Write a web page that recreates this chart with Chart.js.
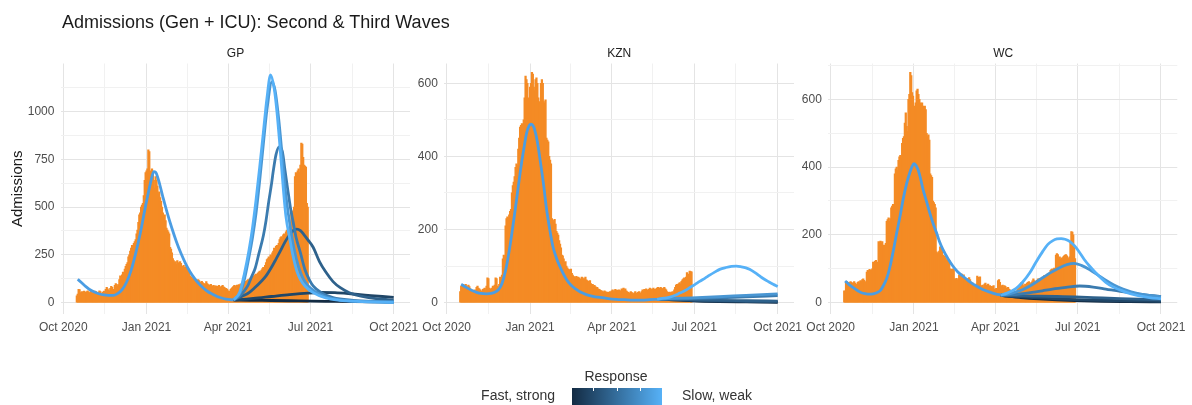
<!DOCTYPE html>
<html>
<head>
<meta charset="utf-8">
<title>Admissions (Gen + ICU): Second &amp; Third Waves</title>
<script src="https://cdn.jsdelivr.net/npm/chart.js@4.4.1/dist/chart.umd.min.js"></script>
<style>
  html, body { margin: 0; padding: 0; background: #ffffff; }
  body { width: 1192px; height: 405px; overflow: hidden; position: relative;
         font-family: 'Liberation Sans', Arial, sans-serif; }
  canvas { position: absolute; top: 0; }
  .txt { position: absolute; white-space: nowrap; line-height: normal; }
  .strip { font-size: 12px; color: #222; text-align: center; top: 45.5px; }
</style>
</head>
<body>
<canvas id="gp" width="440" height="405" style="left:0px"></canvas>
<canvas id="kzn" width="410" height="405" style="left:412px"></canvas>
<canvas id="wc" width="396" height="405" style="left:796px"></canvas>

<div class="txt" style="left:62px;top:12px;font-size:18px;color:#1a1a1a">Admissions (Gen + ICU): Second &amp; Third Waves</div>
<div class="txt strip" style="left:61px;width:349px">GP</div>
<div class="txt strip" style="left:444.4px;width:349.6px">KZN</div>
<div class="txt strip" style="left:828.4px;width:349.6px">WC</div>

<div class="txt" style="left:560px;width:112px;text-align:center;top:368px;font-size:14px;color:#333">Response</div>
<div class="txt" style="left:455px;width:100px;text-align:right;top:386.5px;font-size:14px;color:#333">Fast, strong</div>
<div class="txt" style="left:682px;top:386.5px;font-size:14px;color:#333">Slow, weak</div>
<div style="position:absolute;left:572px;top:388px;width:90px;height:20px;background:linear-gradient(to right,#132B43,#56B1F7)"></div>
<div style="position:absolute;left:593px;top:388px;width:1px;height:3px;background:#fff"></div>
<div style="position:absolute;left:617px;top:388px;width:1px;height:3px;background:#fff"></div>
<div style="position:absolute;left:640px;top:388px;width:1px;height:3px;background:#fff"></div>

<script>
// Days are counted from 1 Oct 2020; daily admissions start on 16 Oct 2020.
const START_DAY = 15;

// Daily admissions (general ward + ICU), 16 Oct 2020 – 28 Jun 2021
const gpAdmissions = [
  35, 45, 70, 68, 50, 55, 58, 52, 60, 55,
  48, 58, 62, 55, 50, 57, 60, 52, 48, 55,
  60, 58, 50, 45, 55, 62, 58, 50, 48, 55,
  60, 58, 70, 80, 72, 65, 60, 75, 85, 80,
  70, 65, 90, 100, 95, 85, 95, 120, 140, 130,
  145, 160, 150, 175, 190, 200, 210, 240, 250, 270,
  285, 300, 290, 310, 320, 330, 360, 380, 420, 460,
  470, 500, 510, 520, 560, 640, 680, 690, 700, 800,
  790, 690, 650, 700, 680, 640, 600, 660, 640, 610,
  570, 580, 550, 530, 500, 470, 450, 460, 430, 390,
  380, 370, 360, 290, 280, 260, 230, 220, 210, 215,
  200, 220, 210, 200, 215, 205, 190, 180, 195, 185,
  185, 190, 180, 175, 165, 140, 135, 130, 120, 128,
  125, 118, 115, 110, 120, 115, 108, 100, 112, 105,
  98, 100, 96, 110, 100, 95, 92, 90, 96, 88,
  85, 90, 82, 88, 86, 80, 85, 90, 82, 78,
  85, 90, 82, 80, 75, 75, 70, 62, 55, 60,
  70, 75, 80, 85, 90, 82, 88, 92, 86, 95,
  90, 98, 92, 96, 100, 108, 112, 105, 115, 120,
  118, 125, 130, 122, 135, 140, 132, 145, 150, 148,
  155, 160, 165, 158, 170, 178, 185, 180, 195, 210,
  225, 230, 240, 235, 250, 245, 260, 270, 285, 280,
  295, 300, 290, 310, 330, 340, 345, 335, 355, 360,
  350, 370, 380, 375, 390, 385, 420, 470, 460, 480,
  500, 660, 680, 670, 690, 700, 680, 720, 835, 830,
  760, 720, 715, 710, 520, 500
];
const kznAdmissions = [
  30, 45, 40, 50, 48, 42, 50, 45, 40, 48,
  44, 38, 35, 30, 32, 28, 35, 30, 42, 45,
  40, 38, 35, 30, 32, 36, 38, 40, 35, 45,
  68, 66, 40, 38, 35, 40, 45, 42, 48, 68,
  66, 45, 40, 50, 70, 68, 75, 120, 130, 125,
  210, 230, 235, 232, 240, 250, 255, 300, 320, 330,
  345, 370, 380, 375, 420, 450, 480, 485, 490, 480,
  500, 560, 620, 610, 600, 560, 545, 590, 600, 630,
  625, 590, 580, 610, 615, 600, 560, 550, 545, 600,
  610, 600, 550, 545, 555, 450, 445, 440, 400, 390,
  380, 230, 225, 220, 228, 215, 195, 190, 185, 170,
  160, 150, 130, 128, 120, 110, 112, 100, 95, 92,
  90, 88, 92, 80, 75, 72, 70, 68, 72, 65,
  70, 68, 62, 65, 70, 68, 64, 66, 70, 62,
  60, 58, 55, 60, 52, 48, 50, 45, 47, 44,
  40, 42, 38, 36, 35, 33, 32, 30, 28, 32,
  30, 27, 29, 26, 28, 30, 27, 32, 35, 30,
  33, 36, 30, 34, 32, 35, 30, 33, 38, 36,
  40, 35, 38, 32, 30, 28, 25, 27, 30, 28,
  25, 24, 27, 30, 26, 24, 28, 30, 27, 25,
  30, 35, 32, 36, 34, 38, 35, 33, 36, 40,
  38, 35, 37, 40, 36, 34, 38, 40, 42, 38,
  40, 42, 39, 36, 40, 42, 38, 35, 30, 28,
  27, 29, 26, 28, 30, 27, 35, 42, 48, 50,
  46, 52, 55, 50, 58, 62, 65, 68, 64, 70,
  82, 78, 60, 86, 85, 84
];
const wcAdmissions = [
  35, 34, 60, 62, 58, 60, 55, 62, 60, 58,
  56, 62, 58, 55, 50, 60, 62, 58, 65, 62,
  68, 70, 66, 60, 62, 90, 95, 92, 98, 95,
  96, 100, 120, 118, 122, 125, 120, 118, 180, 178,
  182, 175, 180, 165, 170, 168, 175, 240, 245, 250,
  240, 248, 280, 285, 290, 282, 380, 395, 400, 390,
  420, 430, 435, 425, 470, 485, 490, 530, 560, 520,
  505, 600, 615, 680, 670, 620, 610, 580, 570, 590,
  625, 630, 615, 600, 590, 585, 590, 580, 575, 580,
  570, 500, 490, 495, 480, 380, 375, 370, 300, 295,
  290, 280, 150, 145, 148, 152, 165, 160, 155, 140,
  135, 138, 132, 125, 128, 120, 125, 100, 98, 95,
  100, 96, 70, 68, 72, 65, 70, 82, 85, 80,
  84, 78, 82, 70, 68, 72, 66, 70, 74, 68,
  60, 55, 58, 50, 52, 48, 55, 78, 75, 70,
  76, 50, 48, 52, 46, 55, 58, 52, 50, 55,
  48, 50, 46, 48, 45, 50, 40, 38, 42, 40,
  65, 68, 60, 50, 48, 52, 46, 50, 48, 44,
  42, 45, 40, 38, 32, 30, 28, 30, 32, 28,
  30, 35, 40, 45, 42, 55, 60, 58, 50, 48,
  55, 52, 58, 60, 62, 58, 55, 60, 64, 70,
  65, 62, 60, 66, 70, 68, 72, 66, 70, 68,
  75, 80, 78, 76, 82, 85, 80, 88, 95, 98,
  100, 96, 102, 100, 140, 145, 142, 130, 135, 128,
  132, 130, 135, 138, 140, 142, 138, 132, 128, 135,
  180, 210, 208, 200, 170, 130
];

// Axis breaks (days since 1 Oct 2020)
const monthDays = [0, 92, 182, 273, 365];
const monthLabels = ['Oct 2020', 'Jan 2021', 'Apr 2021', 'Jul 2021', 'Oct 2021'];
const minorMonthDays = [46, 137, 227.5, 319];

// Response scale: fast/strong (dark) to slow/weak (light)
const responseColours = ['#132B43', '#204667', '#2E618B', '#3B7BAF', '#4996D3', '#56B1F7'];
// The fitted wave is where every scenario overlaps, so it reads as a blend
const fittedColour = '#4B9DE3';

// Fitted second wave, shared by every response scenario: [day, admissions]
const gpFitted = [[16,122],[20,105],[25,84],[30,66],[35,54],[40,45],[45,40],[50,38],[55,38],[60,47],[65,68],[70,108],[75,170],[80,258],[85,362],[90,484],[95,598],[98,660],[100,685],[102,682],[105,645],[110,554],[115,467],[120,389],[125,319],[130,258],[135,206],[140,162],[145,127],[150,98],[155,75],[160,57],[165,44],[170,32],[175,24],[180,18],[185,15],[188,14]];
const kznFitted = [[16,50],[22,41],[28,33],[33,28],[38,25],[44,24],[49,25],[53,28],[57,35],[60,46],[63,68],[66,100],[70,158],[73,209],[77,280],[81,355],[85,420],[88,462],[91,484],[93,488],[95,485],[97,473],[100,440],[103,391],[107,320],[110,258],[114,195],[117,155],[121,122],[125,98],[128,82],[132,64],[137,48],[143,36],[148,28],[154,22],[160,18],[169,14],[178,11],[187,9],[196,8],[206,7],[215,7],[224,8],[232,9]];
const wcFitted = [[16,64],[20,54],[25,44],[30,35],[34,29],[39,26],[43,25],[47,26],[51,29],[55,36],[58,49],[62,72],[65,100],[69,150],[73,206],[77,260],[80,304],[84,352],[87.5,384],[90,402],[92,410],[94,406],[96.6,392],[99,370],[102,335],[106,298],[109.5,265],[113,235],[117,206],[120,182],[124,157],[130,128],[135,108],[140,92],[146,78],[153,63],[161,49],[168,39],[176,31],[182,26],[188,22]];

// Third-wave projections, one per response level (fast/strong first)
const gpProjections = [
  [[195,13],[210,12],[230,11],[260,9],[290,7],[320,5],[365,3]],
  [[195,16],[210,22],[230,32],[250,42],[270,50],[285,53],[300,52],[320,45],[340,37],[365,27]],
  [[195,28],[200,38],[206,55],[212,80],[218,108],[224,140],[230,185],[235,228],[240,272],[245,318],[250,355],[254,377],[258,385],[262,377],[266,355],[270,330],[276,290],[283,215],[290,160],[298,110],[306,78],[316,52],[333,30],[350,19],[365,13]],
  [[195,35],[199,56],[204,90],[208,135],[212,180],[216,255],[221,350],[224,430],[227,530],[230,620],[232,690],[235,775],[238.5,815],[242,790],[245,690],[248,590],[251,495],[254,420],[257,345],[262,260],[267,172],[272,118],[276,88],[285,52],[298,26],[320,12],[345,6],[365,4]],
  [[195,48],[200,120],[205,235],[209,340],[213,470],[217,640],[221,830],[225,1010],[230.5,1155],[234,1110],[238,960],[242,760],[246,560],[250,420],[255,280],[260,185],[265,125],[270,90],[278,58],[290,30],[305,15],[325,7],[365,2]],
  [[195,56],[200,150],[205,270],[209,390],[213,540],[217,710],[221,890],[225,1070],[229,1192],[233,1120],[236,1000],[240,780],[243,600],[246,450],[250,340],[254,240],[258,165],[262,120],[267,87],[276,52],[290,24],[305,12],[325,6],[365,2]]
];
const kznProjections = [
  [[245,8],[270,5],[300,3],[330,2],[365,1]],
  [[245,8],[270,6],[300,4],[330,3],[365,2]],
  [[245,9],[270,8],[300,6],[330,5],[365,4]],
  [[245,10],[270,11],[300,13],[330,16],[365,19]],
  [[245,11],[270,13],[300,16],[330,20],[365,24]],
  [[240,12],[246,15],[252,20],[257,26],[263,33],[268,41],[274,50],[279,58],[285,67],[290,75],[296,84],[301,91],[308,96],[314,99],[319.5,100],[325,98],[330,95],[334,91],[340,82],[345,73],[349,66],[355,57],[360,50],[365,44]]
];
const wcProjections = [
  [[195,19],[210,15],[230,11],[250,8],[270,6],[300,4],[330,3],[365,2]],
  [[195,20],[210,17],[230,14],[250,11],[270,9],[300,7],[330,5],[365,4]],
  [[195,21],[210,20],[230,19],[250,18],[270,17],[290,15],[320,12],[365,8]],
  [[195,22],[205,24],[215,27],[225,31],[234,35],[245,40],[260,45],[275,49],[290,46],[304,40],[320,33],[341,25],[365,18]],
  [[195,24],[203,30],[212,38],[222,52],[234.5,74],[244,90],[253,103],[261,112],[269,116],[277,110],[286,98],[295,82],[304,66],[313,52],[323,40],[332,32],[341,26],[352,21],[365,17]],
  [[195,28],[200,34],[205,42],[212,60],[220,88],[227,120],[234.5,152],[240,172],[245.5,183],[250,188],[254.7,189],[259,187],[264,181],[270,166],[275,148],[280,128],[286,108],[295,82],[304,60],[313,45],[323,34],[332,26],[341,20],[352,15],[365,11]]
];

// Y-axis breaks per province
const gpYMajor = [0, 250, 500, 750, 1000];
const gpYMinor = [125, 375, 625, 875, 1125];
const kznYMajor = [0, 200, 400, 600];
const kznYMinor = [100, 300, 500];
const wcYMajor = [0, 200, 400, 600];
const wcYMinor = [100, 300, 500, 700];

const FONT = "'Liberation Sans', Arial, sans-serif";
const GRID_MAJOR = '#e4e4e4';
const GRID_MINOR = '#f1f1f1';
const BAR_COLOUR = '#F48B25';

const panels = [
  { id: 'gp',  bars: gpAdmissions,  fitted: gpFitted,  projections: gpProjections,
    yMin: -59.6, yMax: 1251.6, yMajor: gpYMajor, yMinor: gpYMinor,
    axisWidth: 61, padRight: 30, showTitle: true },
  { id: 'kzn', bars: kznAdmissions, fitted: kznFitted, projections: kznProjections,
    yMin: -31.2, yMax: 654.2, yMajor: kznYMajor, yMinor: kznYMinor,
    axisWidth: 32.4, padRight: 28, showTitle: false },
  { id: 'wc',  bars: wcAdmissions,  fitted: wcFitted,  projections: wcProjections,
    yMin: -33.6, yMax: 705.8, yMajor: wcYMajor, yMinor: wcYMinor,
    axisWidth: 32.4, padRight: 14, showTitle: false }
];

const xTickValues = monthDays.concat(minorMonthDays).sort((a, b) => a - b);

function lineDataset(points, colour, order) {
  return {
    type: 'line',
    data: points.map(([x, y]) => ({ x, y })),
    borderColor: colour,
    borderWidth: 2.8,
    pointRadius: 0,
    fill: false,
    cubicInterpolationMode: 'monotone',
    order
  };
}

function buildPanel(p) {
  const datasets = [{
    type: 'bar',
    data: p.bars.map((v, i) => ({ x: START_DAY + i, y: v })),
    backgroundColor: BAR_COLOUR,
    borderWidth: 0,
    barThickness: 1.6,
    grouped: false,
    order: 20
  }];
  // Each scenario branches off from the last fitted point
  const junction = p.fitted[p.fitted.length - 1];
  p.projections.forEach((tail, k) => {
    datasets.push(lineDataset([junction].concat(tail), responseColours[k], 10 - k));
  });
  datasets.push(lineDataset(p.fitted, fittedColour, 1));

  const yTicks = p.yMajor.concat(p.yMinor).sort((a, b) => a - b);

  new Chart(document.getElementById(p.id), {
    type: 'bar',
    data: { datasets },
    options: {
      responsive: false,
      animation: false,
      devicePixelRatio: 1,
      events: [],
      layout: { padding: { left: 0, right: p.padRight, top: 63.5, bottom: 61 } },
      plugins: { legend: { display: false }, tooltip: { enabled: false }, title: { display: false } },
      scales: {
        x: {
          type: 'linear', min: -2.5, max: 383, offset: false,
          afterBuildTicks: s => { s.ticks = xTickValues.map(v => ({ value: v })); },
          afterFit: s => { s.height = 30; },
          ticks: {
            autoSkip: false, maxRotation: 0, padding: 6, color: '#4d4d4d',
            font: { family: FONT, size: 12 },
            callback: v => { const i = monthDays.indexOf(v); return i >= 0 ? monthLabels[i] : ''; }
          },
          grid: {
            offset: false, drawTicks: false, lineWidth: 1,
            color: c => (c.tick && monthDays.includes(c.tick.value)) ? GRID_MAJOR : GRID_MINOR
          },
          border: { display: false }
        },
        y: {
          type: 'linear', min: p.yMin, max: p.yMax,
          afterBuildTicks: s => { s.ticks = yTicks.map(v => ({ value: v })); },
          afterFit: s => { s.width = p.axisWidth; },
          ticks: {
            autoSkip: false, padding: 6.6, color: '#4d4d4d',
            font: { family: FONT, size: 12 },
            callback: v => p.yMajor.includes(v) ? String(v) : ''
          },
          grid: {
            drawTicks: false, lineWidth: 1,
            color: c => (c.tick && p.yMajor.includes(c.tick.value)) ? GRID_MAJOR : GRID_MINOR
          },
          border: { display: false },
          title: {
            display: p.showTitle, text: 'Admissions', color: '#1a1a1a',
            font: { family: FONT, size: 15 }, padding: { top: 8.5, bottom: 0 }
          }
        }
      }
    }
  });
}

panels.forEach(buildPanel);
</script>
</body>
</html>
